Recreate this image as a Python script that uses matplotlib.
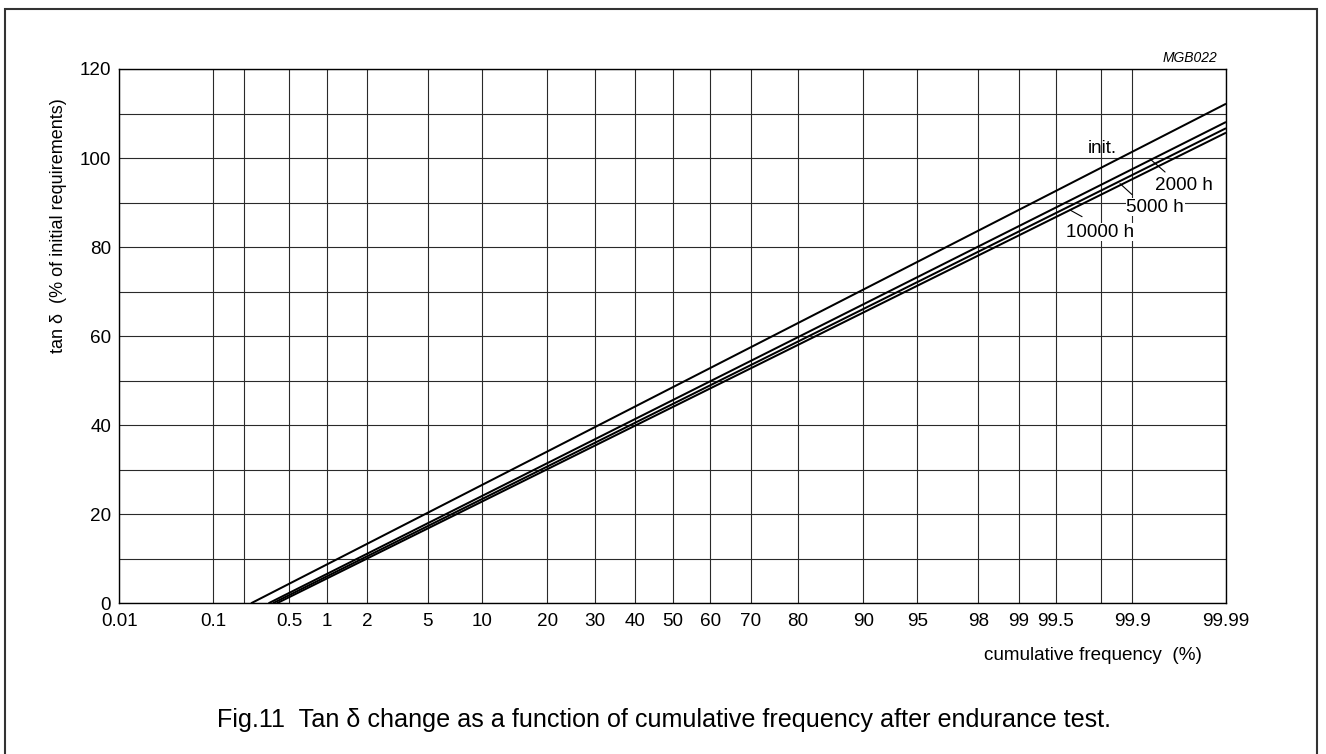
import numpy as np
import matplotlib
matplotlib.use("Agg")
import matplotlib.pyplot as plt
from matplotlib.patches import Rectangle
from statistics import NormalDist

plt.rcParams['font.family'] = ['Liberation Sans', 'DejaVu Sans']

# ---- data ----
series_names = ['init.', '2000 h', '5000 h', '10000 h']
freq_start = [0.23, 0.33, 0.36, 0.39]      # cumulative frequency (%) where tan d = 0
tan_start = [0, 0, 0, 0]
freq_end = [99.99, 99.99, 99.99, 99.99]
tan_end = [112.2, 108.1, 106.7, 105.7]     # tan d (%) at 99.99 %

x_ticks = [0.01, 0.1, 0.2, 0.5, 1, 2, 5, 10, 20, 30, 40, 50, 60, 70, 80, 90,
           95, 98, 99, 99.5, 99.8, 99.9, 99.99]
x_ticklabels = ['0.01', '0.1', '', '0.5', '1', '2', '5', '10', '20', '30', '40',
                '50', '60', '70', '80', '90', '95', '98', '99', '99.5', '', '99.9',
                '99.99']
y_major = [0, 20, 40, 60, 80, 100, 120]
y_minor = [10, 30, 50, 70, 90, 110]

# ---- normal probability scale ----
_nd = NormalDist()
_ppf = np.vectorize(lambda v: _nd.inv_cdf(min(max(v, 1e-7), 100 - 1e-7) / 100.0),
                    otypes=[float])
_cdf = np.vectorize(lambda v: 100.0 * _nd.cdf(v), otypes=[float])


def fwd(p):
    return _ppf(np.asarray(p, dtype=float))


def inv(z):
    return _cdf(np.asarray(z, dtype=float))


W, H = 1326, 754
fig = plt.figure(figsize=(W / 100, H / 100), dpi=100)
ax = fig.add_axes([0.0900, 0.19987, 0.83462, 0.70862])
ax.set_xscale('function', functions=(fwd, inv))
ax.set_xlim(0.01, 99.99)
ax.set_ylim(0, 120)

ax.set_xticks(x_ticks)
ax.set_xticklabels(x_ticklabels)
ax.set_yticks(y_major)
ax.set_yticks(y_minor, minor=True)
ax.xaxis.set_minor_locator(matplotlib.ticker.NullLocator())
ax.tick_params(axis='both', which='both', length=0, labelsize=13.6)
ax.tick_params(axis='x', pad=7.0)
ax.tick_params(axis='y', pad=6.0)

ax.grid(True, which='major', axis='x', color='#2a2a2a', lw=0.8)
ax.grid(True, which='both', axis='y', color='#2a2a2a', lw=0.8)
ax.set_axisbelow(True)
for s in ax.spines.values():
    s.set_color('black')
    s.set_linewidth(1.0)

for i, name in enumerate(series_names):
    ax.plot([freq_start[i], freq_end[i]], [tan_start[i], tan_end[i]],
            color='black', lw=1.45, solid_capstyle='butt', zorder=3)

# ---- series labels ----
bb = dict(facecolor='white', edgecolor='none', pad=0.5)
ax.text(0.8884, 0.8433, 'init.', transform=ax.transAxes, ha='center',
        va='baseline', fontsize=13.6, zorder=5)
lab_pos = [(0.9616, 0.7735), (0.9361, 0.7329), (0.8862, 0.6861)]
lead_from = [(0.9449, 0.8072), (0.9151, 0.7649), (0.8699, 0.7236)]
lead_to = [(0.9313, 0.8316), (0.9042, 0.7855), (0.8590, 0.7361)]
for name, pos, a, b in zip(series_names[1:], lab_pos, lead_from, lead_to):
    ax.text(pos[0], pos[1], name, transform=ax.transAxes, ha='center',
            va='baseline', fontsize=13.6, zorder=5, bbox=bb)
    ax.annotate('', xy=b, xycoords='axes fraction', xytext=a,
                textcoords='axes fraction',
                arrowprops=dict(arrowstyle='-', color='black', lw=0.8,
                                shrinkA=0, shrinkB=0), zorder=4)

# ---- labels ----
fig.text(0.9065, 0.1247, 'cumulative frequency  (%)', ha='right',
         va='baseline', fontsize=13.6)
fig.text(0.0440, 0.7007, 'tan δ  (% of initial requirements)', rotation=90,
         ha='center', va='center', fontsize=13)
fig.text(0.9178, 0.9182, 'MGB022', ha='right', va='baseline', fontsize=10,
         style='italic')
fig.text(664 / W, 1 - 726.7 / H,
         'Fig.11  Tan δ change as a function of cumulative frequency after endurance test.',
         ha='center', va='baseline', fontsize=18.1)

# outer frame (open at the bottom, extends beyond the image)
fig.add_artist(Rectangle((4.7 / W, -0.2), (1316.7 - 4.7) / W, (1 - 9 / H) + 0.2,
                         transform=fig.transFigure, fill=False,
                         edgecolor='#333333', lw=1.5, clip_on=False))

fig.savefig('out.png', dpi=100)
